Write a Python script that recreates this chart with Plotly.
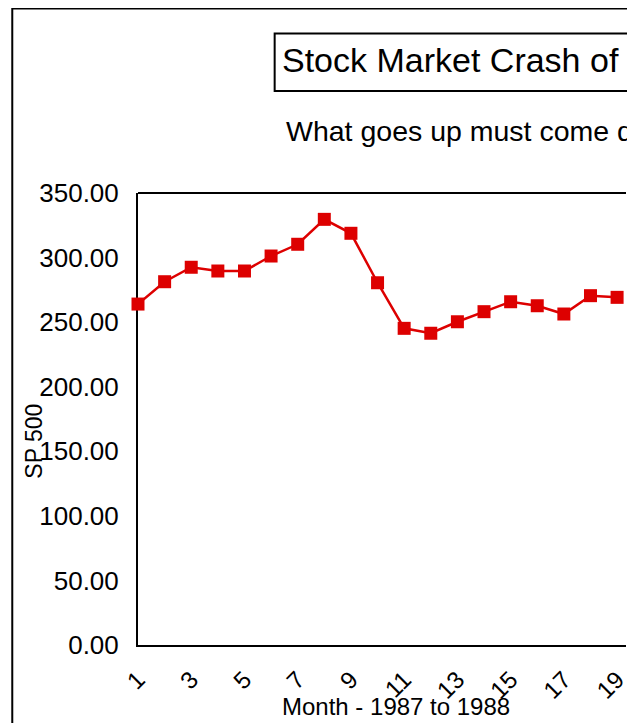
import plotly.graph_objects as go

# ---- data ----
months = list(range(1, 20))
sp500 = [264.0, 281.3, 292.5, 289.6, 289.6, 301.2, 310.3, 329.6, 318.8, 280.5,
         245.2, 241.4, 250.3, 258.1, 265.8, 262.7, 256.3, 270.5, 269.2]
x_tick_vals = list(range(1, 20, 2))
x_tick_text = [str(v) for v in x_tick_vals]
y_tick_vals = [0, 50, 100, 150, 200, 250, 300, 350]
y_tick_text = [f"{v:.2f}" for v in y_tick_vals]

title_text = "Stock Market Crash of 1987"
subtitle_text = "What goes up must come down"
x_title = "Month - 1987 to 1988"
y_title = "SP 500"

# ---- geometry ----
W, H = 621, 715
ML, MR, MT, MB = 130, 0, 185, 78
PW = W - ML - MR
PH = H - MT - MB
OFF = 8  # page body margin


def px(xp):
    return (xp - OFF - ML) / PW


def py(yp):
    return 1 - (yp - OFF - MT) / PH


FONT = "Liberation Sans, Arial, sans-serif"
RED = "#DD0000"

fig = go.Figure()
fig.add_trace(go.Scatter(
    x=months, y=sp500, mode="lines+markers",
    line=dict(color=RED, width=2.5),
    marker=dict(symbol="square", size=13, color=RED),
    cliponaxis=False, showlegend=False, hoverinfo="x+y",
))

px_per_month = 26.78
fig.update_xaxes(
    range=[1, 1 + PW / px_per_month],
    tickmode="array", tickvals=x_tick_vals, ticktext=x_tick_text,
    tickangle=-45, tickfont=dict(family=FONT, size=24, color="black"),
    showline=True, linecolor="black", linewidth=2, mirror=False,
    showgrid=False, zeroline=False, ticks="", ticklabelstandoff=9,
    ticklabeloverflow="allow",
    layer="below traces",
)
fig.update_yaxes(
    range=[0, 350],
    tickmode="array", tickvals=y_tick_vals, ticktext=y_tick_text,
    tickfont=dict(family=FONT, size=26, color="black"),
    showline=True, linecolor="black", linewidth=2, mirror=False,
    showgrid=False, zeroline=False, ticks="", ticklabelstandoff=12,
    layer="below traces",
)

shapes = [
    # outer chart border (continues beyond the visible window)
    dict(type="rect", xref="paper", yref="paper",
         x0=px(11.5), y0=py(8.5), x1=px(2000), y1=py(2000),
         line=dict(color="black", width=2), fillcolor="rgba(0,0,0,0)", layer="below"),
    # title box
    dict(type="rect", xref="paper", yref="paper",
         x0=px(275.5), y0=py(33.5), x1=px(2000), y1=py(91),
         line=dict(color="black", width=2), fillcolor="rgba(0,0,0,0)"),
    # top edge of plot area
    dict(type="line", xref="paper", yref="paper", x0=0, x1=1, y0=1, y1=1,
         line=dict(color="black", width=2)),
]

annotations = [
    dict(text=title_text, x=px(281), y=py(60), xref="paper", yref="paper",
         xanchor="left", yanchor="middle", showarrow=False,
         font=dict(family=FONT, size=34, color="black")),
    dict(text=subtitle_text, x=px(285), y=py(131.5), xref="paper", yref="paper",
         xanchor="left", yanchor="middle", showarrow=False,
         font=dict(family=FONT, size=28.5, color="black")),
    dict(text=x_title, x=px(398), y=py(706), xref="paper", yref="paper",
         xanchor="center", yanchor="middle", showarrow=False,
         font=dict(family=FONT, size=24, color="black")),
    dict(text=y_title, x=px(32.5), y=py(441.5), xref="paper", yref="paper",
         xanchor="center", yanchor="middle", showarrow=False, textangle=-90,
         font=dict(family=FONT, size=23, color="black")),
]

fig.update_layout(
    width=W, height=H,
    margin=dict(l=ML, r=MR, t=MT, b=MB, pad=0),
    paper_bgcolor="white", plot_bgcolor="white",
    shapes=shapes, annotations=annotations,
    font=dict(family=FONT, color="black"),
)

fig.write_html("out.html")
